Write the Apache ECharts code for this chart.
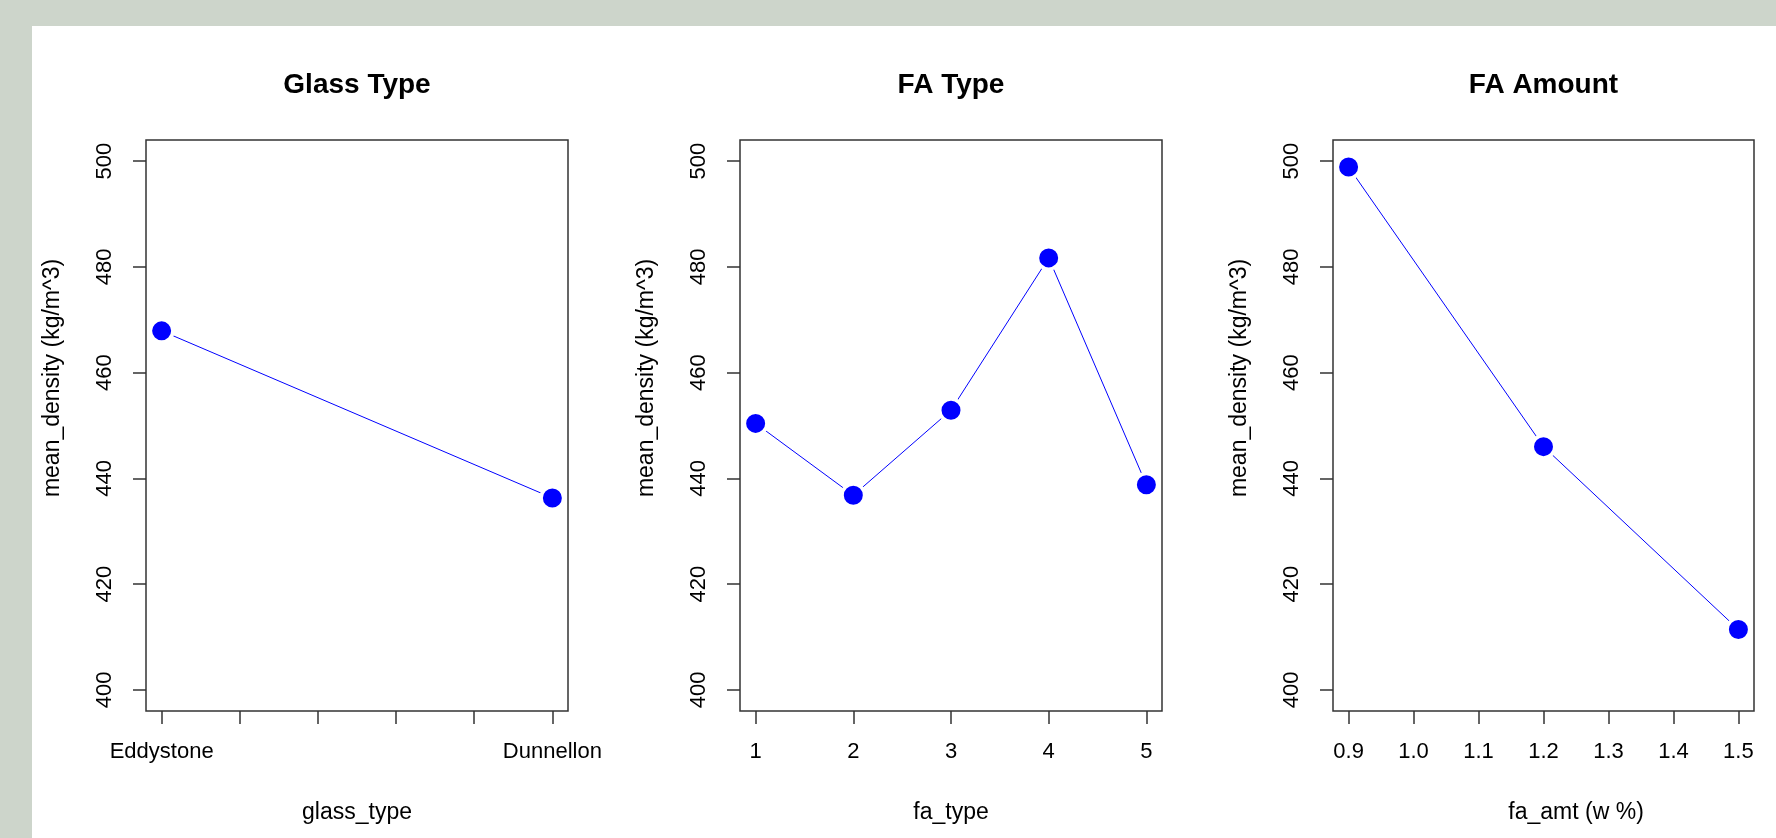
<!DOCTYPE html>
<html>
<head>
<meta charset="utf-8">
<script src="https://cdn.jsdelivr.net/npm/echarts@6/dist/echarts.min.js"></script>
<style>
  html, body { margin: 0; padding: 0; background: #CDD5CB; overflow: hidden; }
  #panel { position: absolute; left: 32px; top: 26px; right: 0; bottom: 0; background: #FFFFFF; }
  #chart { position: absolute; left: 0; top: 0; width: 1776px; height: 838px; }
</style>
</head>
<body>
<div id="panel"></div>
<div id="chart"></div>
<script>
// ---- data ----
const glassTypes = ['Eddystone', 'Dunnellon'];
const glassDensity = [467.9, 436.3];
const glassTicks = [1, 1.2, 1.4, 1.6, 1.8, 2];

const faTypes = [1, 2, 3, 4, 5];
const faTypeDensity = [450.4, 436.8, 452.9, 481.7, 438.8];

const faAmts = [0.9, 1.2, 1.5];
const faAmtDensity = [498.9, 446.0, 411.4];
const faAmtTicks = [0.9, 1.0, 1.1, 1.2, 1.3, 1.4, 1.5];

const yTicks = [400, 420, 440, 460, 480, 500];
const titles = ['Glass Type', 'FA Type', 'FA Amount'];
// axis titles: main part (centred on the plot) + appended suffix
const xNameMain = ['glass_type', 'fa_type', 'fa_amt'];
const xNameSuffix = ['', '', ' (w %)'];
const yNameMain = 'mean_density';
const yNameSuffix = ' (kg/m^3)';

// ---- layout ----
const FONT = "'Liberation Sans', Arial, sans-serif";
const grids = [
  { left: 146, top: 140, width: 422, height: 571 },
  { left: 740, top: 140, width: 422, height: 571 },
  { left: 1333, top: 140, width: 421, height: 571 }
];
const xRanges = [[0.96, 2.04], [0.84, 5.16], [0.876, 1.524]];
const xTickVals = [glassTicks, faTypes, faAmtTicks];
const xLabelVals = [[1, 2], faTypes, faAmtTicks];
const xFormatters = [
  v => glassTypes[Math.round(v) - 1] || '',
  v => String(Math.round(v)),
  v => Number(v).toFixed(1)
];
const seriesData = [
  glassDensity.map((d, i) => [i + 1, d]),
  faTypeDensity.map((d, i) => [faTypes[i], d]),
  faAmtDensity.map((d, i) => [faAmts[i], d])
];

// a transparent copy of the suffix in front keeps the main word centred
function centredName(main, suffix) {
  return suffix ? '{g|' + suffix + '}' + main + suffix : main;
}
const nameStyle = {
  fontFamily: FONT, fontSize: 23, color: '#000',
  rich: { g: { fontFamily: FONT, fontSize: 23, color: 'rgba(0,0,0,0)' } }
};

const chart = echarts.init(document.getElementById('chart'), null, { renderer: 'canvas' });

const option = {
  animation: false,
  backgroundColor: 'transparent',
  title: grids.map((g, i) => ({
    text: titles[i],
    left: g.left + g.width / 2,
    top: 71,
    textAlign: 'center',
    padding: 0,
    textStyle: { fontFamily: FONT, fontSize: 28, fontWeight: 'bold', color: '#000' }
  })),
  grid: grids.map(g => Object.assign({
    show: true,
    backgroundColor: 'transparent',
    borderColor: '#333',
    borderWidth: 1.5,
    containLabel: false
  }, g)),
  xAxis: grids.map((g, i) => ({
    type: 'value',
    gridIndex: i,
    min: xRanges[i][0],
    max: xRanges[i][1],
    name: centredName(xNameMain[i], xNameSuffix[i]),
    nameLocation: 'middle',
    nameGap: 90,
    nameTextStyle: nameStyle,
    axisLine: { show: false },
    splitLine: { show: false },
    axisTick: {
      show: true, inside: false, length: 13,
      customValues: xTickVals[i],
      lineStyle: { color: '#333', width: 1.5 }
    },
    axisLabel: {
      show: true, margin: 30,
      customValues: xLabelVals[i],
      formatter: xFormatters[i],
      fontFamily: FONT, fontSize: 22, color: '#000'
    }
  })),
  yAxis: grids.map((g, i) => ({
    type: 'value',
    gridIndex: i,
    min: 396,
    max: 504,
    name: centredName(yNameMain, yNameSuffix),
    nameLocation: 'middle',
    nameRotate: 90,
    nameGap: 82,
    nameTextStyle: nameStyle,
    axisLine: { show: false },
    splitLine: { show: false },
    axisTick: {
      show: true, inside: false, length: 13,
      customValues: yTicks,
      lineStyle: { color: '#333', width: 1.5 }
    },
    axisLabel: {
      show: true, margin: 30, rotate: 90,
      customValues: yTicks,
      fontFamily: FONT, fontSize: 22, color: '#000'
    }
  })),
  series: seriesData.map((d, i) => ({
    type: 'line',
    xAxisIndex: i,
    yAxisIndex: i,
    data: d,
    symbol: 'circle',
    symbolSize: 22.5,
    showSymbol: true,
    lineStyle: { color: '#0000FF', width: 1 },
    itemStyle: { color: '#0000FF', borderColor: '#FFFFFF', borderWidth: 3.5 },
    emphasis: { disabled: true }
  }))
};

chart.setOption(option);
</script>
</body>
</html>
